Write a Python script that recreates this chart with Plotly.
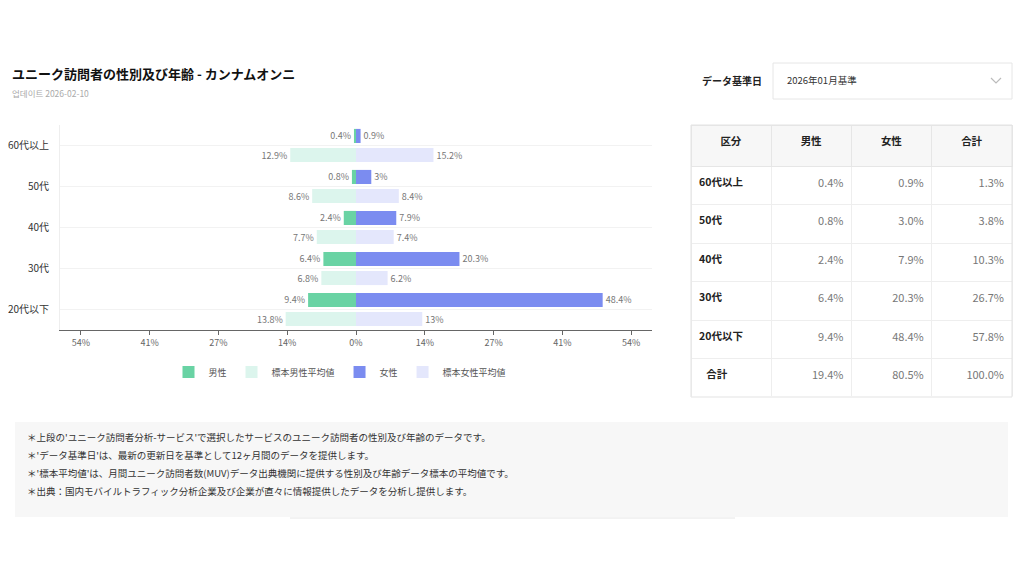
import plotly.graph_objects as go

# データ（グラフ）
age_groups = ['60代以上', '50代', '40代', '30代', '20代以下']
male = [0.4, 0.8, 2.4, 6.4, 9.4]
female = [0.9, 3.0, 7.9, 20.3, 48.4]
male_sample = [12.9, 8.6, 7.7, 6.8, 13.8]
female_sample = [15.2, 8.4, 7.4, 6.2, 13.0]

tick_vals = [-54, -40.5, -27, -13.5, 0, 13.5, 27, 40.5, 54]
tick_text = ['54%', '41%', '27%', '14%', '0%', '14%', '27%', '41%', '54%']

# データ（表）
table_head = ['区分', '男性', '女性', '合計']
table_rows = ['60代以上', '50代', '40代', '30代', '20代以下', '合計']
table_male = ['0.4%', '0.8%', '2.4%', '6.4%', '9.4%', '19.4%']
table_female = ['0.9%', '3.0%', '7.9%', '20.3%', '48.4%', '80.5%']
table_total = ['1.3%', '3.8%', '10.3%', '26.7%', '57.8%', '100.0%']

notes = [
    "＊上段の'ユニーク訪問者分析-サービス'で選択したサービスのユニーク訪問者の性別及び年齢のデータです。",
    "＊'データ基準日'は、最新の更新日を基準として12ヶ月間のデータを提供します。",
    "＊'標本平均値'は、月間ユニーク訪問者数(MUV)データ出典機関に提供する性別及び年齢データ標本の平均値です。",
    "＊出典：国内モバイルトラフィック分析企業及び企業が直々に情報提供したデータを分析し提供します。",
]

# ページの余白(8px)を差し引いたサイズ
PAD = 8
W, H = 1024 - 2 * PAD, 576 - 2 * PAD
FONT = 'Noto Sans CJK JP'


def px(x):
    return (x - PAD) / W


def py(y):
    return 1 - (y - PAD) / H


def pct(v):
    return f'{v:g}%'


GREEN = '#69d3a4'
MINT = '#dcf5ed'
BLUE = '#7b8cf0'
LAVENDER = '#e4e7fc'

fig = go.Figure()
series = [
    ('男性', [-v for v in male], male, GREEN, 'a'),
    ('標本男性平均値', [-v for v in male_sample], male_sample, MINT, 'b'),
    ('女性', female, female, BLUE, 'a'),
    ('標本女性平均値', female_sample, female_sample, LAVENDER, 'b'),
]
for name, xs, labels, color, grp in series:
    fig.add_trace(go.Bar(
        y=age_groups, x=xs, orientation='h', name=name,
        marker=dict(color=color, line=dict(width=0)),
        offsetgroup=grp,
        text=[pct(v) for v in labels], textposition='outside',
        outsidetextfont=dict(size=9, color='#777777', family=FONT),
        cliponaxis=False, hoverinfo='skip',
    ))


def cell(s):
    # 縦方向の中央寄せのために空行を入れる
    return '<br>' + s


fig.add_trace(go.Table(
    domain=dict(x=[px(691), px(1012)], y=[py(397), py(125)]),
    columnwidth=[1, 1, 1, 1],
    header=dict(
        values=[f'<b>{h}</b>' for h in table_head],
        fill_color='#f7f7f7', line_color='#e6e6e6', height=41,
        align='center', font=dict(size=10.5, color='#222222', family=FONT),
    ),
    cells=dict(
        values=[[cell(f'<b>{r}</b>') if r != '合計' else cell(f'<b>\u00a0\u00a0\u00a0{r}</b>') for r in table_rows],
                [cell(v) for v in table_male], [cell(v) for v in table_female], [cell(v) for v in table_total]],
        fill_color='white', line_color='#eeeeee', height=38.5,
        align=['left', 'right', 'right', 'right'],
        font=dict(size=[10.5, 11, 11, 11], color=['#222222', '#777777', '#777777', '#777777'], family=FONT),
    ),
))

shapes = [
    # 表の外枠
    dict(type='rect', xref='paper', yref='paper', x0=px(691), x1=px(1012), y0=py(397), y1=py(125),
         line=dict(color='#e3e3e3', width=1), fillcolor='rgba(0,0,0,0)', layer='above'),
    # ドロップダウン
    dict(type='rect', xref='paper', yref='paper', x0=px(773), x1=px(1012), y0=py(99), y1=py(63),
         line=dict(color='#e6e6e6', width=1), fillcolor='white'),
    dict(type='path', xref='paper', yref='paper',
         path=f'M {px(991)},{py(78)} L {px(996)},{py(83)} L {px(1001)},{py(78)}',
         line=dict(color='#bbbbbb', width=1.2)),
    # 注記ボックス
    dict(type='rect', xref='paper', yref='paper', x0=px(15), x1=px(1008), y0=py(517), y1=py(422),
         line=dict(width=0), fillcolor='#f7f7f7', layer='below'),
    dict(type='line', xref='paper', yref='paper', x0=px(290), x1=px(735), y0=py(518), y1=py(518),
         line=dict(color='#e6e6e6', width=1)),
]

annotations = [
    dict(text='<b>ユニーク訪問者の性別及び年齢 - カンナムオンニ</b>', x=px(10), y=py(73),
         xanchor='left', yanchor='middle', font=dict(size=13, color='#111111')),
    dict(text='업데이트 2026-02-10', x=px(10), y=py(93), xanchor='left', yanchor='middle',
         font=dict(size=8.5, color='#aaaaaa')),
    dict(text='<b>データ基準日</b>', x=px(700), y=py(81), xanchor='left', yanchor='middle',
         font=dict(size=10, color='#222222')),
    dict(text='2026年01月基準', x=px(785), y=py(80), xanchor='left', yanchor='middle',
         font=dict(size=9.5, color='#333333')),
]
for i, line in enumerate(notes):
    annotations.append(dict(text=line, x=px(25), y=py(437 + 18 * i), xanchor='left', yanchor='middle',
                            font=dict(size=9.5, color='#333333')))
for a in annotations:
    a.update(xref='paper', yref='paper', showarrow=False)

fig.update_layout(
    width=W, height=H,
    margin=dict(l=0, r=0, t=0, b=0),
    paper_bgcolor='white', plot_bgcolor='white',
    font=dict(family=FONT, color='#333333'),
    barmode='group', bargap=0.07, bargroupgap=0.26,
    showlegend=True,
    legend=dict(orientation='h', x=px(340), xanchor='center', y=py(372), yanchor='middle',
                font=dict(size=9, color='#555555'), traceorder='normal', itemclick=False,
                itemwidth=30, tracegroupgap=0),
    xaxis=dict(domain=[px(60), px(652)], range=[-58.08, 58.08], tickvals=tick_vals, ticktext=tick_text,
               showgrid=False, zeroline=False, showline=True, linecolor='#666666', linewidth=1.2,
               ticks='outside', ticklen=4, tickcolor='#666666', tickfont=dict(size=9, color='#666666')),
    yaxis=dict(domain=[py(330), py(125)], autorange='reversed', showgrid=True, gridcolor='#f2f2f2',
               zeroline=False, showline=True, linecolor='#eeeeee', ticks='', ticklabelstandoff=8,
               tickfont=dict(size=10, color='#333333')),
    shapes=shapes, annotations=annotations,
)

fig.write_html('out.html')
